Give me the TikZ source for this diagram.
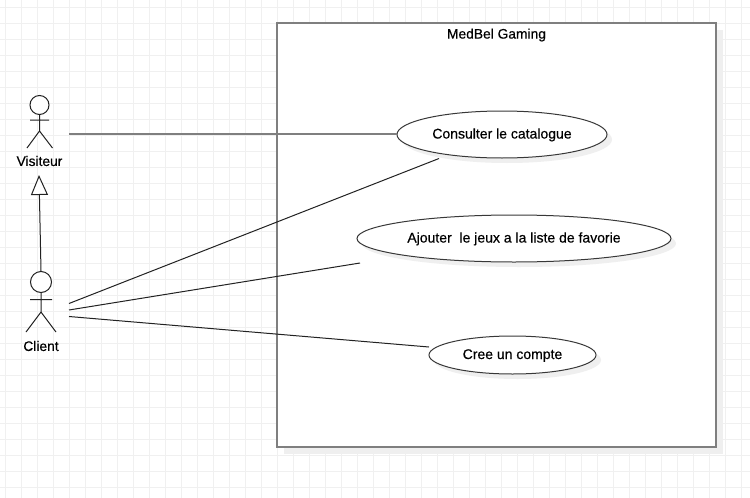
\documentclass[tikz,border=0pt]{standalone}
\usepackage{fontspec}
\setmainfont[FakeBold=0.4]{Liberation Sans}
\usetikzlibrary{shapes.geometric,shadows,arrows.meta}
\definecolor{gridc}{HTML}{F0F0F0}
\definecolor{shadowc}{HTML}{EFEFEF}
\definecolor{boxc}{HTML}{7F7F7F}
\definecolor{linec}{HTML}{222222}
\tikzset{
  gridline/.style={draw=gridc,line width=1pt},
  sysbox/.style={rectangle,draw=boxc,line width=2pt,fill=white,minimum width=439pt,minimum height=424pt,inner sep=0pt,outer sep=0pt,
    drop shadow={shadow xshift=7pt,shadow yshift=-7pt,fill=shadowc,opacity=1}},
  usecase/.style={ellipse,draw=linec!90,line width=1pt,fill=white,inner sep=0pt,text height=10pt,text depth=2pt,font=\fontsize{14}{16}\selectfont,
    drop shadow={shadow xshift=5pt,shadow yshift=-5pt,fill=shadowc,opacity=1}},
  lbl/.style={inner sep=0pt,font=\fontsize{13.8}{16}\selectfont},
  actorline/.style={draw=linec,line width=1pt},
  head/.style={circle,draw=linec,line width=1pt,fill=white,inner sep=0pt},
  assoc/.style={draw=linec,line width=1pt},
  assocgray/.style={draw=boxc,line width=2pt},
  gener/.style={draw=linec,line width=1pt,-{Triangle[open,length=20pt,width=17pt,fill=white]}}
}
\begin{document}
\begin{tikzpicture}[x=1pt,y=-1pt]
\useasboundingbox (0,0) rectangle (750,498);
\fill[white] (0,0) rectangle (750,498);
\foreach \gx in {5,21,...,749} \draw[gridline] (\gx,0) -- (\gx,498);
\foreach \gy in {7,23,...,497} \draw[gridline] (0,\gy) -- (750,\gy);

\node[sysbox] (sys) at (496.5,235) {};
\node[lbl] (title) at (496.5,35) {MedBel Gaming};

\node[usecase,minimum width=210pt,minimum height=47pt] (uc1) at (502,134.5) {Consulter le catalogue};
\node[usecase,minimum width=314pt,minimum height=47pt] (uc2) at (514,238.5) {Ajouter\ \ le jeux a la liste de favorie};
\node[usecase,minimum width=167pt,minimum height=38pt] (uc3) at (512.5,355) {Cree un compte};

% Visiteur actor
\node[head,minimum size=19pt] (vhead) at (39.5,105) {};
\coordinate (vhip) at (39.5,131);
\coordinate (varmL) at (30,120);
\coordinate (varmR) at (49,120);
\coordinate (vlegL) at (27,148);
\coordinate (vlegR) at (52.5,148);
\draw[actorline] (vhead.south) -- (vhip) (varmL) -- (varmR) (vlegL) -- (vhip) -- (vlegR);
\node[lbl] (vlabel) at (39.5,161) {Visiteur};

% Client actor
\node[head,minimum size=21pt] (chead) at (41,282) {};
\coordinate (chip) at (41,312);
\coordinate (carmL) at (30,299.5);
\coordinate (carmR) at (52,299.5);
\coordinate (clegL) at (26,332);
\coordinate (clegR) at (56,332);
\draw[actorline] (chead.south) -- (chip) (carmL) -- (carmR) (clegL) -- (chip) -- (clegR);
\node[lbl] (clabel) at (41,346) {Client};

% connector ends
\coordinate (vport) at (69,134);
\coordinate (cport1) at (69,303.5);
\coordinate (cport2) at (69,310);
\coordinate (cport3) at (69,316.5);
\coordinate (uc1end) at (439,158.5);
\coordinate (uc2end) at (360,263);
\coordinate (uc3end) at (429,347);
\coordinate (apex) at (39,175);

\draw[assocgray] (vport) -- (uc1.west |- vport);
\draw[assoc] (cport1) -- (uc1end);
\draw[assoc] (cport2) -- (uc2end);
\draw[assoc] (cport3) -- (uc3end);
\draw[gener] (chead.north) -- (apex);
\end{tikzpicture}
\end{document}
